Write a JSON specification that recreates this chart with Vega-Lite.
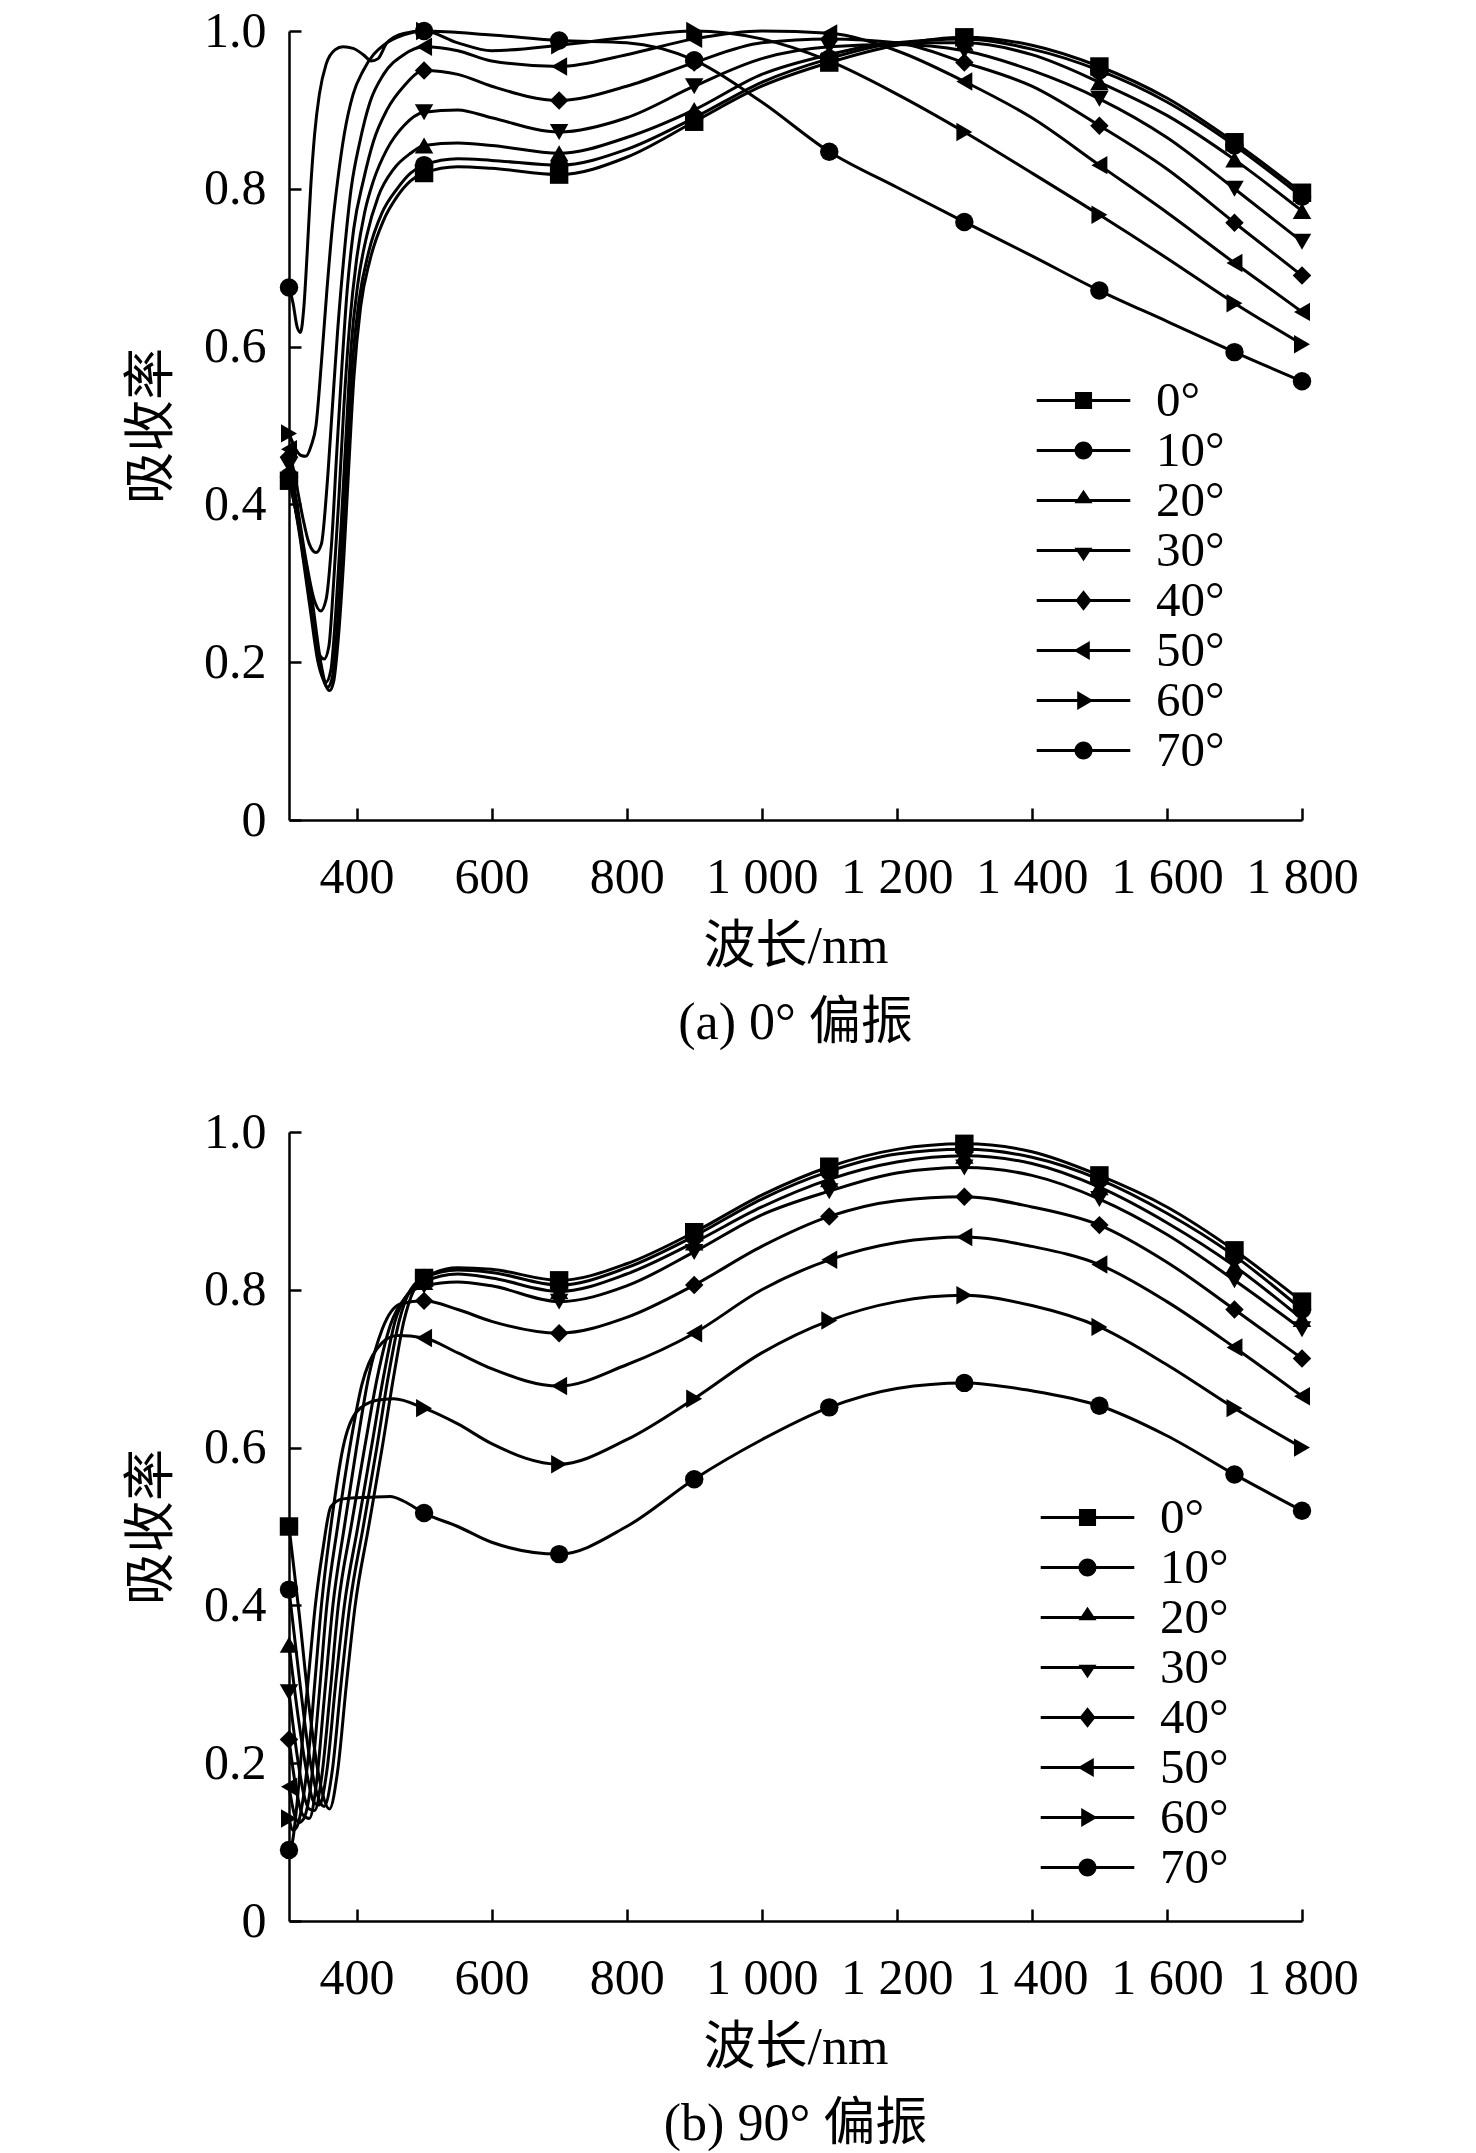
{
  "$schema": "https://vega.github.io/schema/vega-lite/v6.json",
  "background": "white",
  "padding": {"left": 125, "top": 6, "right": 20, "bottom": 10},
  "spacing": 58,
  "datasets": {
    "a": [
      {"angle":"0°","nm":300,"absorb":0.43},{"angle":"0°","nm":318,"absorb":0.36},{"angle":"0°","nm":334,"absorb":0.28},{"angle":"0°","nm":347,"absorb":0.2},{"angle":"0°","nm":354,"absorb":0.172},{"angle":"0°","nm":360,"absorb":0.164},{"angle":"0°","nm":366,"absorb":0.175},{"angle":"0°","nm":373,"absorb":0.23},{"angle":"0°","nm":381,"absorb":0.33},{"angle":"0°","nm":388,"absorb":0.44},{"angle":"0°","nm":396,"absorb":0.56},{"angle":"0°","nm":406,"absorb":0.65},{"angle":"0°","nm":420,"absorb":0.71},{"angle":"0°","nm":440,"absorb":0.76},{"angle":"0°","nm":460,"absorb":0.79},{"angle":"0°","nm":480,"absorb":0.81},{"angle":"0°","nm":500,"absorb":0.82},{"angle":"0°","nm":550,"absorb":0.828},{"angle":"0°","nm":600,"absorb":0.826},{"angle":"0°","nm":700,"absorb":0.818},{"angle":"0°","nm":800,"absorb":0.84},{"angle":"0°","nm":900,"absorb":0.885},{"angle":"0°","nm":1000,"absorb":0.93},{"angle":"0°","nm":1100,"absorb":0.96},{"angle":"0°","nm":1200,"absorb":0.982},{"angle":"0°","nm":1300,"absorb":0.992},{"angle":"0°","nm":1400,"absorb":0.982},{"angle":"0°","nm":1500,"absorb":0.955},{"angle":"0°","nm":1600,"absorb":0.915},{"angle":"0°","nm":1700,"absorb":0.859},{"angle":"0°","nm":1800,"absorb":0.795},

      {"angle":"10°","nm":300,"absorb":0.435},{"angle":"10°","nm":317,"absorb":0.36},{"angle":"10°","nm":332,"absorb":0.28},{"angle":"10°","nm":345,"absorb":0.2},{"angle":"10°","nm":352,"absorb":0.175},{"angle":"10°","nm":357,"absorb":0.168},{"angle":"10°","nm":364,"absorb":0.18},{"angle":"10°","nm":371,"absorb":0.24},{"angle":"10°","nm":379,"absorb":0.35},{"angle":"10°","nm":386,"absorb":0.46},{"angle":"10°","nm":394,"absorb":0.58},{"angle":"10°","nm":404,"absorb":0.66},{"angle":"10°","nm":418,"absorb":0.72},{"angle":"10°","nm":438,"absorb":0.77},{"angle":"10°","nm":460,"absorb":0.8},{"angle":"10°","nm":480,"absorb":0.82},{"angle":"10°","nm":500,"absorb":0.83},{"angle":"10°","nm":550,"absorb":0.838},{"angle":"10°","nm":600,"absorb":0.836},{"angle":"10°","nm":700,"absorb":0.83},{"angle":"10°","nm":800,"absorb":0.85},{"angle":"10°","nm":900,"absorb":0.89},{"angle":"10°","nm":1000,"absorb":0.935},{"angle":"10°","nm":1100,"absorb":0.965},{"angle":"10°","nm":1200,"absorb":0.985},{"angle":"10°","nm":1300,"absorb":0.99},{"angle":"10°","nm":1400,"absorb":0.977},{"angle":"10°","nm":1500,"absorb":0.95},{"angle":"10°","nm":1600,"absorb":0.91},{"angle":"10°","nm":1700,"absorb":0.855},{"angle":"10°","nm":1800,"absorb":0.79},

      {"angle":"20°","nm":300,"absorb":0.44},{"angle":"20°","nm":316,"absorb":0.36},{"angle":"20°","nm":331,"absorb":0.27},{"angle":"20°","nm":343,"absorb":0.2},{"angle":"20°","nm":350,"absorb":0.18},{"angle":"20°","nm":355,"absorb":0.175},{"angle":"20°","nm":362,"absorb":0.19},{"angle":"20°","nm":369,"absorb":0.26},{"angle":"20°","nm":377,"absorb":0.37},{"angle":"20°","nm":384,"absorb":0.48},{"angle":"20°","nm":392,"absorb":0.6},{"angle":"20°","nm":402,"absorb":0.68},{"angle":"20°","nm":415,"absorb":0.74},{"angle":"20°","nm":432,"absorb":0.79},{"angle":"20°","nm":455,"absorb":0.825},{"angle":"20°","nm":480,"absorb":0.845},{"angle":"20°","nm":500,"absorb":0.855},{"angle":"20°","nm":550,"absorb":0.858},{"angle":"20°","nm":600,"absorb":0.855},{"angle":"20°","nm":700,"absorb":0.845},{"angle":"20°","nm":800,"absorb":0.865},{"angle":"20°","nm":900,"absorb":0.9},{"angle":"20°","nm":1000,"absorb":0.945},{"angle":"20°","nm":1100,"absorb":0.97},{"angle":"20°","nm":1200,"absorb":0.985},{"angle":"20°","nm":1300,"absorb":0.985},{"angle":"20°","nm":1400,"absorb":0.97},{"angle":"20°","nm":1500,"absorb":0.935},{"angle":"20°","nm":1600,"absorb":0.893},{"angle":"20°","nm":1700,"absorb":0.837},{"angle":"20°","nm":1800,"absorb":0.772},

      {"angle":"30°","nm":300,"absorb":0.45},{"angle":"30°","nm":315,"absorb":0.37},{"angle":"30°","nm":329,"absorb":0.29},{"angle":"30°","nm":340,"absorb":0.225},{"angle":"30°","nm":346,"absorb":0.208},{"angle":"30°","nm":352,"absorb":0.204},{"angle":"30°","nm":359,"absorb":0.22},{"angle":"30°","nm":366,"absorb":0.3},{"angle":"30°","nm":374,"absorb":0.41},{"angle":"30°","nm":381,"absorb":0.52},{"angle":"30°","nm":390,"absorb":0.63},{"angle":"30°","nm":400,"absorb":0.71},{"angle":"30°","nm":412,"absorb":0.77},{"angle":"30°","nm":425,"absorb":0.81},{"angle":"30°","nm":445,"absorb":0.85},{"angle":"30°","nm":470,"absorb":0.88},{"angle":"30°","nm":500,"absorb":0.897},{"angle":"30°","nm":550,"absorb":0.9},{"angle":"30°","nm":600,"absorb":0.89},{"angle":"30°","nm":700,"absorb":0.872},{"angle":"30°","nm":800,"absorb":0.89},{"angle":"30°","nm":900,"absorb":0.93},{"angle":"30°","nm":1000,"absorb":0.965},{"angle":"30°","nm":1100,"absorb":0.98},{"angle":"30°","nm":1200,"absorb":0.983},{"angle":"30°","nm":1300,"absorb":0.975},{"angle":"30°","nm":1400,"absorb":0.95},{"angle":"30°","nm":1500,"absorb":0.914},{"angle":"30°","nm":1600,"absorb":0.865},{"angle":"30°","nm":1700,"absorb":0.8},{"angle":"30°","nm":1800,"absorb":0.733},

      {"angle":"40°","nm":300,"absorb":0.46},{"angle":"40°","nm":312,"absorb":0.4},{"angle":"40°","nm":325,"absorb":0.33},{"angle":"40°","nm":337,"absorb":0.28},{"angle":"40°","nm":347,"absorb":0.265},{"angle":"40°","nm":355,"absorb":0.28},{"angle":"40°","nm":363,"absorb":0.35},{"angle":"40°","nm":371,"absorb":0.47},{"angle":"40°","nm":378,"absorb":0.57},{"angle":"40°","nm":386,"absorb":0.67},{"angle":"40°","nm":396,"absorb":0.75},{"angle":"40°","nm":410,"absorb":0.81},{"angle":"40°","nm":425,"absorb":0.86},{"angle":"40°","nm":445,"absorb":0.9},{"angle":"40°","nm":470,"absorb":0.93},{"angle":"40°","nm":500,"absorb":0.95},{"angle":"40°","nm":550,"absorb":0.945},{"angle":"40°","nm":600,"absorb":0.93},{"angle":"40°","nm":700,"absorb":0.912},{"angle":"40°","nm":800,"absorb":0.93},{"angle":"40°","nm":900,"absorb":0.96},{"angle":"40°","nm":1000,"absorb":0.985},{"angle":"40°","nm":1100,"absorb":0.99},{"angle":"40°","nm":1200,"absorb":0.985},{"angle":"40°","nm":1300,"absorb":0.96},{"angle":"40°","nm":1400,"absorb":0.93},{"angle":"40°","nm":1500,"absorb":0.88},{"angle":"40°","nm":1600,"absorb":0.825},{"angle":"40°","nm":1700,"absorb":0.757},{"angle":"40°","nm":1800,"absorb":0.69},

      {"angle":"50°","nm":300,"absorb":0.47},{"angle":"50°","nm":310,"absorb":0.43},{"angle":"50°","nm":320,"absorb":0.385},{"angle":"50°","nm":330,"absorb":0.35},{"angle":"50°","nm":340,"absorb":0.339},{"angle":"50°","nm":348,"absorb":0.35},{"angle":"50°","nm":356,"absorb":0.42},{"angle":"50°","nm":364,"absorb":0.52},{"angle":"50°","nm":372,"absorb":0.62},{"angle":"50°","nm":382,"absorb":0.72},{"angle":"50°","nm":392,"absorb":0.8},{"angle":"50°","nm":405,"absorb":0.86},{"angle":"50°","nm":420,"absorb":0.91},{"angle":"50°","nm":440,"absorb":0.945},{"angle":"50°","nm":470,"absorb":0.97},{"angle":"50°","nm":500,"absorb":0.98},{"angle":"50°","nm":550,"absorb":0.975},{"angle":"50°","nm":600,"absorb":0.962},{"angle":"50°","nm":700,"absorb":0.955},{"angle":"50°","nm":800,"absorb":0.97},{"angle":"50°","nm":900,"absorb":0.99},{"angle":"50°","nm":1000,"absorb":1.0},{"angle":"50°","nm":1100,"absorb":0.997},{"angle":"50°","nm":1200,"absorb":0.975},{"angle":"50°","nm":1300,"absorb":0.936},{"angle":"50°","nm":1400,"absorb":0.89},{"angle":"50°","nm":1500,"absorb":0.83},{"angle":"50°","nm":1600,"absorb":0.77},{"angle":"50°","nm":1700,"absorb":0.706},{"angle":"50°","nm":1800,"absorb":0.644},

      {"angle":"60°","nm":300,"absorb":0.49},{"angle":"60°","nm":310,"absorb":0.47},{"angle":"60°","nm":318,"absorb":0.462},{"angle":"60°","nm":325,"absorb":0.461},{"angle":"60°","nm":333,"absorb":0.475},{"angle":"60°","nm":340,"absorb":0.5},{"angle":"60°","nm":348,"absorb":0.58},{"angle":"60°","nm":356,"absorb":0.67},{"angle":"60°","nm":364,"absorb":0.75},{"angle":"60°","nm":372,"absorb":0.81},{"angle":"60°","nm":382,"absorb":0.87},{"angle":"60°","nm":395,"absorb":0.92},{"angle":"60°","nm":410,"absorb":0.95},{"angle":"60°","nm":425,"absorb":0.97},{"angle":"60°","nm":440,"absorb":0.982},{"angle":"60°","nm":470,"absorb":0.995},{"angle":"60°","nm":500,"absorb":1.0},{"angle":"60°","nm":550,"absorb":0.985},{"angle":"60°","nm":600,"absorb":0.975},{"angle":"60°","nm":700,"absorb":0.982},{"angle":"60°","nm":800,"absorb":0.992},{"angle":"60°","nm":900,"absorb":1.0},{"angle":"60°","nm":1000,"absorb":0.99},{"angle":"60°","nm":1100,"absorb":0.962},{"angle":"60°","nm":1200,"absorb":0.92},{"angle":"60°","nm":1300,"absorb":0.872},{"angle":"60°","nm":1400,"absorb":0.82},{"angle":"60°","nm":1500,"absorb":0.767},{"angle":"60°","nm":1600,"absorb":0.712},{"angle":"60°","nm":1700,"absorb":0.655},{"angle":"60°","nm":1800,"absorb":0.603},

      {"angle":"70°","nm":300,"absorb":0.675},{"angle":"70°","nm":306,"absorb":0.655},{"angle":"70°","nm":312,"absorb":0.625},{"angle":"70°","nm":317,"absorb":0.618},{"angle":"70°","nm":322,"absorb":0.65},{"angle":"70°","nm":327,"absorb":0.72},{"angle":"70°","nm":332,"absorb":0.8},{"angle":"70°","nm":338,"absorb":0.87},{"angle":"70°","nm":345,"absorb":0.92},{"angle":"70°","nm":355,"absorb":0.958},{"angle":"70°","nm":368,"absorb":0.976},{"angle":"70°","nm":380,"absorb":0.98},{"angle":"70°","nm":395,"absorb":0.978},{"angle":"70°","nm":410,"absorb":0.97},{"angle":"70°","nm":422,"absorb":0.962},{"angle":"70°","nm":432,"absorb":0.965},{"angle":"70°","nm":445,"absorb":0.985},{"angle":"70°","nm":470,"absorb":0.997},{"angle":"70°","nm":500,"absorb":1.0},{"angle":"70°","nm":600,"absorb":0.995},{"angle":"70°","nm":700,"absorb":0.988},{"angle":"70°","nm":800,"absorb":0.985},{"angle":"70°","nm":900,"absorb":0.963},{"angle":"70°","nm":1000,"absorb":0.91},{"angle":"70°","nm":1100,"absorb":0.847},{"angle":"70°","nm":1200,"absorb":0.802},{"angle":"70°","nm":1300,"absorb":0.758},{"angle":"70°","nm":1400,"absorb":0.715},{"angle":"70°","nm":1500,"absorb":0.671},{"angle":"70°","nm":1600,"absorb":0.632},{"angle":"70°","nm":1700,"absorb":0.593},{"angle":"70°","nm":1800,"absorb":0.556}
    ],
    "b": [
      {"angle":"0°","nm":300,"absorb":0.5},{"angle":"0°","nm":315,"absorb":0.39},{"angle":"0°","nm":330,"absorb":0.27},{"angle":"0°","nm":345,"absorb":0.18},{"angle":"0°","nm":360,"absorb":0.142},{"angle":"0°","nm":372,"absorb":0.19},{"angle":"0°","nm":385,"absorb":0.3},{"angle":"0°","nm":398,"absorb":0.4},{"angle":"0°","nm":418,"absorb":0.5},{"angle":"0°","nm":438,"absorb":0.6},{"angle":"0°","nm":455,"absorb":0.69},{"angle":"0°","nm":470,"absorb":0.76},{"angle":"0°","nm":485,"absorb":0.8},{"angle":"0°","nm":500,"absorb":0.815},{"angle":"0°","nm":550,"absorb":0.828},{"angle":"0°","nm":600,"absorb":0.826},{"angle":"0°","nm":700,"absorb":0.812},{"angle":"0°","nm":800,"absorb":0.833},{"angle":"0°","nm":900,"absorb":0.873},{"angle":"0°","nm":1000,"absorb":0.92},{"angle":"0°","nm":1100,"absorb":0.956},{"angle":"0°","nm":1200,"absorb":0.978},{"angle":"0°","nm":1300,"absorb":0.985},{"angle":"0°","nm":1400,"absorb":0.975},{"angle":"0°","nm":1500,"absorb":0.945},{"angle":"0°","nm":1600,"absorb":0.905},{"angle":"0°","nm":1700,"absorb":0.85},{"angle":"0°","nm":1800,"absorb":0.785},

      {"angle":"10°","nm":300,"absorb":0.42},{"angle":"10°","nm":315,"absorb":0.31},{"angle":"10°","nm":330,"absorb":0.21},{"angle":"10°","nm":342,"absorb":0.16},{"angle":"10°","nm":352,"absorb":0.145},{"angle":"10°","nm":364,"absorb":0.19},{"angle":"10°","nm":377,"absorb":0.3},{"angle":"10°","nm":390,"absorb":0.4},{"angle":"10°","nm":410,"absorb":0.5},{"angle":"10°","nm":430,"absorb":0.6},{"angle":"10°","nm":447,"absorb":0.69},{"angle":"10°","nm":463,"absorb":0.76},{"angle":"10°","nm":480,"absorb":0.8},{"angle":"10°","nm":500,"absorb":0.815},{"angle":"10°","nm":550,"absorb":0.825},{"angle":"10°","nm":600,"absorb":0.822},{"angle":"10°","nm":700,"absorb":0.806},{"angle":"10°","nm":800,"absorb":0.828},{"angle":"10°","nm":900,"absorb":0.868},{"angle":"10°","nm":1000,"absorb":0.915},{"angle":"10°","nm":1100,"absorb":0.95},{"angle":"10°","nm":1200,"absorb":0.972},{"angle":"10°","nm":1300,"absorb":0.978},{"angle":"10°","nm":1400,"absorb":0.968},{"angle":"10°","nm":1500,"absorb":0.94},{"angle":"10°","nm":1600,"absorb":0.897},{"angle":"10°","nm":1700,"absorb":0.843},{"angle":"10°","nm":1800,"absorb":0.775},

      {"angle":"20°","nm":300,"absorb":0.35},{"angle":"20°","nm":315,"absorb":0.25},{"angle":"20°","nm":328,"absorb":0.18},{"angle":"20°","nm":337,"absorb":0.15},{"angle":"20°","nm":345,"absorb":0.147},{"angle":"20°","nm":356,"absorb":0.19},{"angle":"20°","nm":369,"absorb":0.3},{"angle":"20°","nm":382,"absorb":0.4},{"angle":"20°","nm":402,"absorb":0.5},{"angle":"20°","nm":422,"absorb":0.6},{"angle":"20°","nm":440,"absorb":0.69},{"angle":"20°","nm":457,"absorb":0.76},{"angle":"20°","nm":476,"absorb":0.795},{"angle":"20°","nm":500,"absorb":0.81},{"angle":"20°","nm":550,"absorb":0.82},{"angle":"20°","nm":600,"absorb":0.815},{"angle":"20°","nm":700,"absorb":0.798},{"angle":"20°","nm":800,"absorb":0.82},{"angle":"20°","nm":900,"absorb":0.86},{"angle":"20°","nm":1000,"absorb":0.905},{"angle":"20°","nm":1100,"absorb":0.94},{"angle":"20°","nm":1200,"absorb":0.962},{"angle":"20°","nm":1300,"absorb":0.97},{"angle":"20°","nm":1400,"absorb":0.96},{"angle":"20°","nm":1500,"absorb":0.93},{"angle":"20°","nm":1600,"absorb":0.885},{"angle":"20°","nm":1700,"absorb":0.83},{"angle":"20°","nm":1800,"absorb":0.763},

      {"angle":"30°","nm":300,"absorb":0.29},{"angle":"30°","nm":312,"absorb":0.21},{"angle":"30°","nm":322,"absorb":0.16},{"angle":"30°","nm":330,"absorb":0.142},{"angle":"30°","nm":338,"absorb":0.14},{"angle":"30°","nm":348,"absorb":0.18},{"angle":"30°","nm":361,"absorb":0.29},{"angle":"30°","nm":373,"absorb":0.4},{"angle":"30°","nm":392,"absorb":0.5},{"angle":"30°","nm":412,"absorb":0.6},{"angle":"30°","nm":431,"absorb":0.69},{"angle":"30°","nm":450,"absorb":0.755},{"angle":"30°","nm":472,"absorb":0.79},{"angle":"30°","nm":500,"absorb":0.805},{"angle":"30°","nm":550,"absorb":0.81},{"angle":"30°","nm":600,"absorb":0.805},{"angle":"30°","nm":700,"absorb":0.785},{"angle":"30°","nm":800,"absorb":0.805},{"angle":"30°","nm":900,"absorb":0.848},{"angle":"30°","nm":1000,"absorb":0.895},{"angle":"30°","nm":1100,"absorb":0.925},{"angle":"30°","nm":1200,"absorb":0.948},{"angle":"30°","nm":1300,"absorb":0.955},{"angle":"30°","nm":1400,"absorb":0.945},{"angle":"30°","nm":1500,"absorb":0.915},{"angle":"30°","nm":1600,"absorb":0.87},{"angle":"30°","nm":1700,"absorb":0.812},{"angle":"30°","nm":1800,"absorb":0.75},

      {"angle":"40°","nm":300,"absorb":0.23},{"angle":"40°","nm":310,"absorb":0.17},{"angle":"40°","nm":320,"absorb":0.135},{"angle":"40°","nm":330,"absorb":0.13},{"angle":"40°","nm":340,"absorb":0.17},{"angle":"40°","nm":352,"absorb":0.28},{"angle":"40°","nm":365,"absorb":0.4},{"angle":"40°","nm":382,"absorb":0.5},{"angle":"40°","nm":400,"absorb":0.6},{"angle":"40°","nm":418,"absorb":0.69},{"angle":"40°","nm":438,"absorb":0.75},{"angle":"40°","nm":465,"absorb":0.782},{"angle":"40°","nm":500,"absorb":0.786},{"angle":"40°","nm":550,"absorb":0.775},{"angle":"40°","nm":600,"absorb":0.76},{"angle":"40°","nm":700,"absorb":0.745},{"angle":"40°","nm":800,"absorb":0.765},{"angle":"40°","nm":900,"absorb":0.806},{"angle":"40°","nm":1000,"absorb":0.855},{"angle":"40°","nm":1100,"absorb":0.893},{"angle":"40°","nm":1200,"absorb":0.913},{"angle":"40°","nm":1300,"absorb":0.918},{"angle":"40°","nm":1400,"absorb":0.905},{"angle":"40°","nm":1500,"absorb":0.882},{"angle":"40°","nm":1600,"absorb":0.835},{"angle":"40°","nm":1700,"absorb":0.775},{"angle":"40°","nm":1800,"absorb":0.713},

      {"angle":"50°","nm":300,"absorb":0.17},{"angle":"50°","nm":308,"absorb":0.135},{"angle":"50°","nm":315,"absorb":0.125},{"angle":"50°","nm":322,"absorb":0.13},{"angle":"50°","nm":332,"absorb":0.17},{"angle":"50°","nm":344,"absorb":0.28},{"angle":"50°","nm":356,"absorb":0.4},{"angle":"50°","nm":372,"absorb":0.5},{"angle":"50°","nm":390,"absorb":0.6},{"angle":"50°","nm":408,"absorb":0.68},{"angle":"50°","nm":430,"absorb":0.725},{"angle":"50°","nm":460,"absorb":0.742},{"angle":"50°","nm":500,"absorb":0.739},{"angle":"50°","nm":550,"absorb":0.72},{"angle":"50°","nm":600,"absorb":0.7},{"angle":"50°","nm":700,"absorb":0.678},{"angle":"50°","nm":800,"absorb":0.705},{"angle":"50°","nm":900,"absorb":0.745},{"angle":"50°","nm":1000,"absorb":0.8},{"angle":"50°","nm":1100,"absorb":0.838},{"angle":"50°","nm":1200,"absorb":0.86},{"angle":"50°","nm":1300,"absorb":0.867},{"angle":"50°","nm":1400,"absorb":0.855},{"angle":"50°","nm":1500,"absorb":0.832},{"angle":"50°","nm":1600,"absorb":0.785},{"angle":"50°","nm":1700,"absorb":0.727},{"angle":"50°","nm":1800,"absorb":0.665},

      {"angle":"60°","nm":300,"absorb":0.13},{"angle":"60°","nm":306,"absorb":0.115},{"angle":"60°","nm":312,"absorb":0.12},{"angle":"60°","nm":320,"absorb":0.15},{"angle":"60°","nm":330,"absorb":0.22},{"angle":"60°","nm":339,"absorb":0.31},{"angle":"60°","nm":348,"absorb":0.4},{"angle":"60°","nm":362,"absorb":0.5},{"angle":"60°","nm":380,"absorb":0.6},{"angle":"60°","nm":400,"absorb":0.645},{"angle":"60°","nm":430,"absorb":0.66},{"angle":"60°","nm":455,"absorb":0.662},{"angle":"60°","nm":500,"absorb":0.65},{"angle":"60°","nm":550,"absorb":0.63},{"angle":"60°","nm":600,"absorb":0.605},{"angle":"60°","nm":700,"absorb":0.579},{"angle":"60°","nm":800,"absorb":0.61},{"angle":"60°","nm":900,"absorb":0.662},{"angle":"60°","nm":1000,"absorb":0.72},{"angle":"60°","nm":1100,"absorb":0.761},{"angle":"60°","nm":1200,"absorb":0.785},{"angle":"60°","nm":1300,"absorb":0.793},{"angle":"60°","nm":1400,"absorb":0.78},{"angle":"60°","nm":1500,"absorb":0.753},{"angle":"60°","nm":1600,"absorb":0.705},{"angle":"60°","nm":1700,"absorb":0.65},{"angle":"60°","nm":1800,"absorb":0.6},

      {"angle":"70°","nm":300,"absorb":0.09},{"angle":"70°","nm":305,"absorb":0.1},{"angle":"70°","nm":312,"absorb":0.15},{"angle":"70°","nm":320,"absorb":0.23},{"angle":"70°","nm":330,"absorb":0.32},{"angle":"70°","nm":339,"absorb":0.4},{"angle":"70°","nm":350,"absorb":0.47},{"angle":"70°","nm":362,"absorb":0.525},{"angle":"70°","nm":380,"absorb":0.535},{"angle":"70°","nm":420,"absorb":0.537},{"angle":"70°","nm":450,"absorb":0.538},{"angle":"70°","nm":470,"absorb":0.532},{"angle":"70°","nm":500,"absorb":0.517},{"angle":"70°","nm":550,"absorb":0.5},{"angle":"70°","nm":600,"absorb":0.48},{"angle":"70°","nm":700,"absorb":0.465},{"angle":"70°","nm":800,"absorb":0.5},{"angle":"70°","nm":900,"absorb":0.56},{"angle":"70°","nm":1000,"absorb":0.61},{"angle":"70°","nm":1100,"absorb":0.651},{"angle":"70°","nm":1200,"absorb":0.675},{"angle":"70°","nm":1300,"absorb":0.682},{"angle":"70°","nm":1400,"absorb":0.672},{"angle":"70°","nm":1500,"absorb":0.653},{"angle":"70°","nm":1600,"absorb":0.615},{"angle":"70°","nm":1700,"absorb":0.566},{"angle":"70°","nm":1800,"absorb":0.52}
    ]
  },
  "vconcat": [
    {
      "width": 1013,
      "height": 789,
      "title": {"text": "(a) 0° 偏振", "orient": "bottom"},
      "data": {"name": "a"},
      "layer": [
        {
          "mark": {"type": "line", "interpolate": "monotone", "color": "black", "strokeWidth": 3},
          "encoding": {
            "x": {"field": "nm", "type": "quantitative", "scale": {"domain": [300, 1800], "nice": false, "zero": false},
                  "axis": {"title": "波长/nm", "values": [400, 600, 800, 1000, 1200, 1400, 1600, 1800],
                           "labelExpr": "datum.value >= 1000 ? floor(datum.value / 1000) + ' ' + format(datum.value % 1000, '03d') : format(datum.value, 'd')"}},
            "y": {"field": "absorb", "type": "quantitative", "scale": {"domain": [0, 1], "nice": false},
                  "axis": {"title": "吸收率", "values": [0, 0.2, 0.4, 0.6, 0.8, 1.0],
                           "labelExpr": "datum.value == 0 ? '0' : format(datum.value, '.1f')"}},
            "detail": {"field": "angle"}
          }
        },
        {
          "transform": [{"filter": {"field": "nm", "oneOf": [300, 500, 700, 900, 1100, 1300, 1500, 1700, 1800]}}],
          "mark": {"type": "point", "filled": true, "color": "black", "size": 340, "opacity": 1},
          "encoding": {
            "x": {"field": "nm", "type": "quantitative"},
            "y": {"field": "absorb", "type": "quantitative"},
            "shape": {"field": "angle", "type": "nominal", "legend": null,
                      "scale": {"domain": ["0°", "10°", "20°", "30°", "40°", "50°", "60°", "70°"],
                                "range": ["square", "circle", "triangle-up", "triangle-down", "diamond", "triangle-left", "triangle-right", "circle"]}}
          }
        },
        {
          "transform": [{"filter": {"field": "nm", "equal": 1800}}],
          "mark": {"type": "point", "filled": true, "color": "black", "opacity": 0},
          "encoding": {
            "x": {"field": "nm", "type": "quantitative"},
            "y": {"field": "absorb", "type": "quantitative"},
            "shape": {"field": "angle", "type": "nominal",
                      "scale": {"domain": ["0°", "10°", "20°", "30°", "40°", "50°", "60°", "70°"],
                                "range": [
                                  "M-5.2,-0.17H5.2V0.17H-5.2ZM-0.95,-0.95H0.95V0.95H-0.95Z",
                                  "M-5.2,-0.17H5.2V0.17H-5.2ZM1,0A1,1,0,1,1,-1,0A1,1,0,1,1,1,0Z",
                                  "M-5.2,-0.17H5.2V0.17H-5.2ZM0,-1.2L1,0.3H-1Z",
                                  "M-5.2,-0.17H5.2V0.17H-5.2ZM0,1.2L-1,-0.3H1Z",
                                  "M-5.2,-0.17H5.2V0.17H-5.2ZM0,-1.15L0.9,0L0,1.15L-0.9,0Z",
                                  "M-5.2,-0.17H5.2V0.17H-5.2ZM-1.1,0L0.7,-1.05V1.05Z",
                                  "M-5.2,-0.17H5.2V0.17H-5.2ZM1.1,0L-0.7,1.05V-1.05Z",
                                  "M-5.2,-0.17H5.2V0.17H-5.2ZM1,0A1,1,0,1,1,-1,0A1,1,0,1,1,1,0Z"
                                ]},
                      "legend": {"orient": "none", "legendX": 770, "legendY": 345}}
          }
        }
      ],
      "resolve": {"scale": {"shape": "independent"}, "legend": {"shape": "independent"}}
    },
    {
      "width": 1013,
      "height": 789,
      "title": {"text": "(b) 90° 偏振", "orient": "bottom"},
      "data": {"name": "b"},
      "layer": [
        {
          "mark": {"type": "line", "interpolate": "monotone", "color": "black", "strokeWidth": 3},
          "encoding": {
            "x": {"field": "nm", "type": "quantitative", "scale": {"domain": [300, 1800], "nice": false, "zero": false},
                  "axis": {"title": "波长/nm", "values": [400, 600, 800, 1000, 1200, 1400, 1600, 1800],
                           "labelExpr": "datum.value >= 1000 ? floor(datum.value / 1000) + ' ' + format(datum.value % 1000, '03d') : format(datum.value, 'd')"}},
            "y": {"field": "absorb", "type": "quantitative", "scale": {"domain": [0, 1], "nice": false},
                  "axis": {"title": "吸收率", "values": [0, 0.2, 0.4, 0.6, 0.8, 1.0],
                           "labelExpr": "datum.value == 0 ? '0' : format(datum.value, '.1f')"}},
            "detail": {"field": "angle"}
          }
        },
        {
          "transform": [{"filter": {"field": "nm", "oneOf": [300, 500, 700, 900, 1100, 1300, 1500, 1700, 1800]}}],
          "mark": {"type": "point", "filled": true, "color": "black", "size": 340, "opacity": 1},
          "encoding": {
            "x": {"field": "nm", "type": "quantitative"},
            "y": {"field": "absorb", "type": "quantitative"},
            "shape": {"field": "angle", "type": "nominal", "legend": null,
                      "scale": {"domain": ["0°", "10°", "20°", "30°", "40°", "50°", "60°", "70°"],
                                "range": ["square", "circle", "triangle-up", "triangle-down", "diamond", "triangle-left", "triangle-right", "circle"]}}
          }
        },
        {
          "transform": [{"filter": {"field": "nm", "equal": 1800}}],
          "mark": {"type": "point", "filled": true, "color": "black", "opacity": 0},
          "encoding": {
            "x": {"field": "nm", "type": "quantitative"},
            "y": {"field": "absorb", "type": "quantitative"},
            "shape": {"field": "angle", "type": "nominal",
                      "scale": {"domain": ["0°", "10°", "20°", "30°", "40°", "50°", "60°", "70°"],
                                "range": [
                                  "M-5.2,-0.17H5.2V0.17H-5.2ZM-0.95,-0.95H0.95V0.95H-0.95Z",
                                  "M-5.2,-0.17H5.2V0.17H-5.2ZM1,0A1,1,0,1,1,-1,0A1,1,0,1,1,1,0Z",
                                  "M-5.2,-0.17H5.2V0.17H-5.2ZM0,-1.2L1,0.3H-1Z",
                                  "M-5.2,-0.17H5.2V0.17H-5.2ZM0,1.2L-1,-0.3H1Z",
                                  "M-5.2,-0.17H5.2V0.17H-5.2ZM0,-1.15L0.9,0L0,1.15L-0.9,0Z",
                                  "M-5.2,-0.17H5.2V0.17H-5.2ZM-1.1,0L0.7,-1.05V1.05Z",
                                  "M-5.2,-0.17H5.2V0.17H-5.2ZM1.1,0L-0.7,1.05V-1.05Z",
                                  "M-5.2,-0.17H5.2V0.17H-5.2ZM1,0A1,1,0,1,1,-1,0A1,1,0,1,1,1,0Z"
                                ]},
                      "legend": {"orient": "none", "legendX": 774, "legendY": 361}}
          }
        }
      ],
      "resolve": {"scale": {"shape": "independent"}, "legend": {"shape": "independent"}}
    }
  ],
  "resolve": {"scale": {"shape": "independent"}, "legend": {"shape": "independent"}},
  "config": {
    "view": {"stroke": null},
    "font": "Liberation Serif, Noto Sans CJK SC",
    "axis": {
      "grid": false,
      "domainColor": "black", "domainWidth": 2.5,
      "tickColor": "black", "tickWidth": 2.5, "tickSize": -12,
      "labelFont": "Liberation Serif", "labelFontSize": 50, "labelColor": "black",
      "labelFlush": false, "labelOverlap": false, "labelBound": false,
      "titleFont": "Liberation Serif, Noto Sans CJK SC", "titleFontSize": 52, "titleFontWeight": "normal", "titleColor": "black"
    },
    "axisX": {"labelPadding": 44, "titlePadding": 19},
    "axisY": {"labelPadding": 35, "titlePadding": 25},
    "title": {"font": "Liberation Serif, Noto Sans CJK SC", "fontSize": 52, "fontWeight": "normal", "color": "black", "offset": 26, "anchor": "middle"},
    "legend": {
      "title": null, "padding": 0,
      "symbolSize": 324, "symbolOpacity": 1, "symbolFillColor": "black", "symbolStrokeWidth": 0,
      "labelFont": "Liberation Serif", "labelFontSize": 49, "labelColor": "black",
      "labelOffset": 48, "rowPadding": 0
    }
  }
}
